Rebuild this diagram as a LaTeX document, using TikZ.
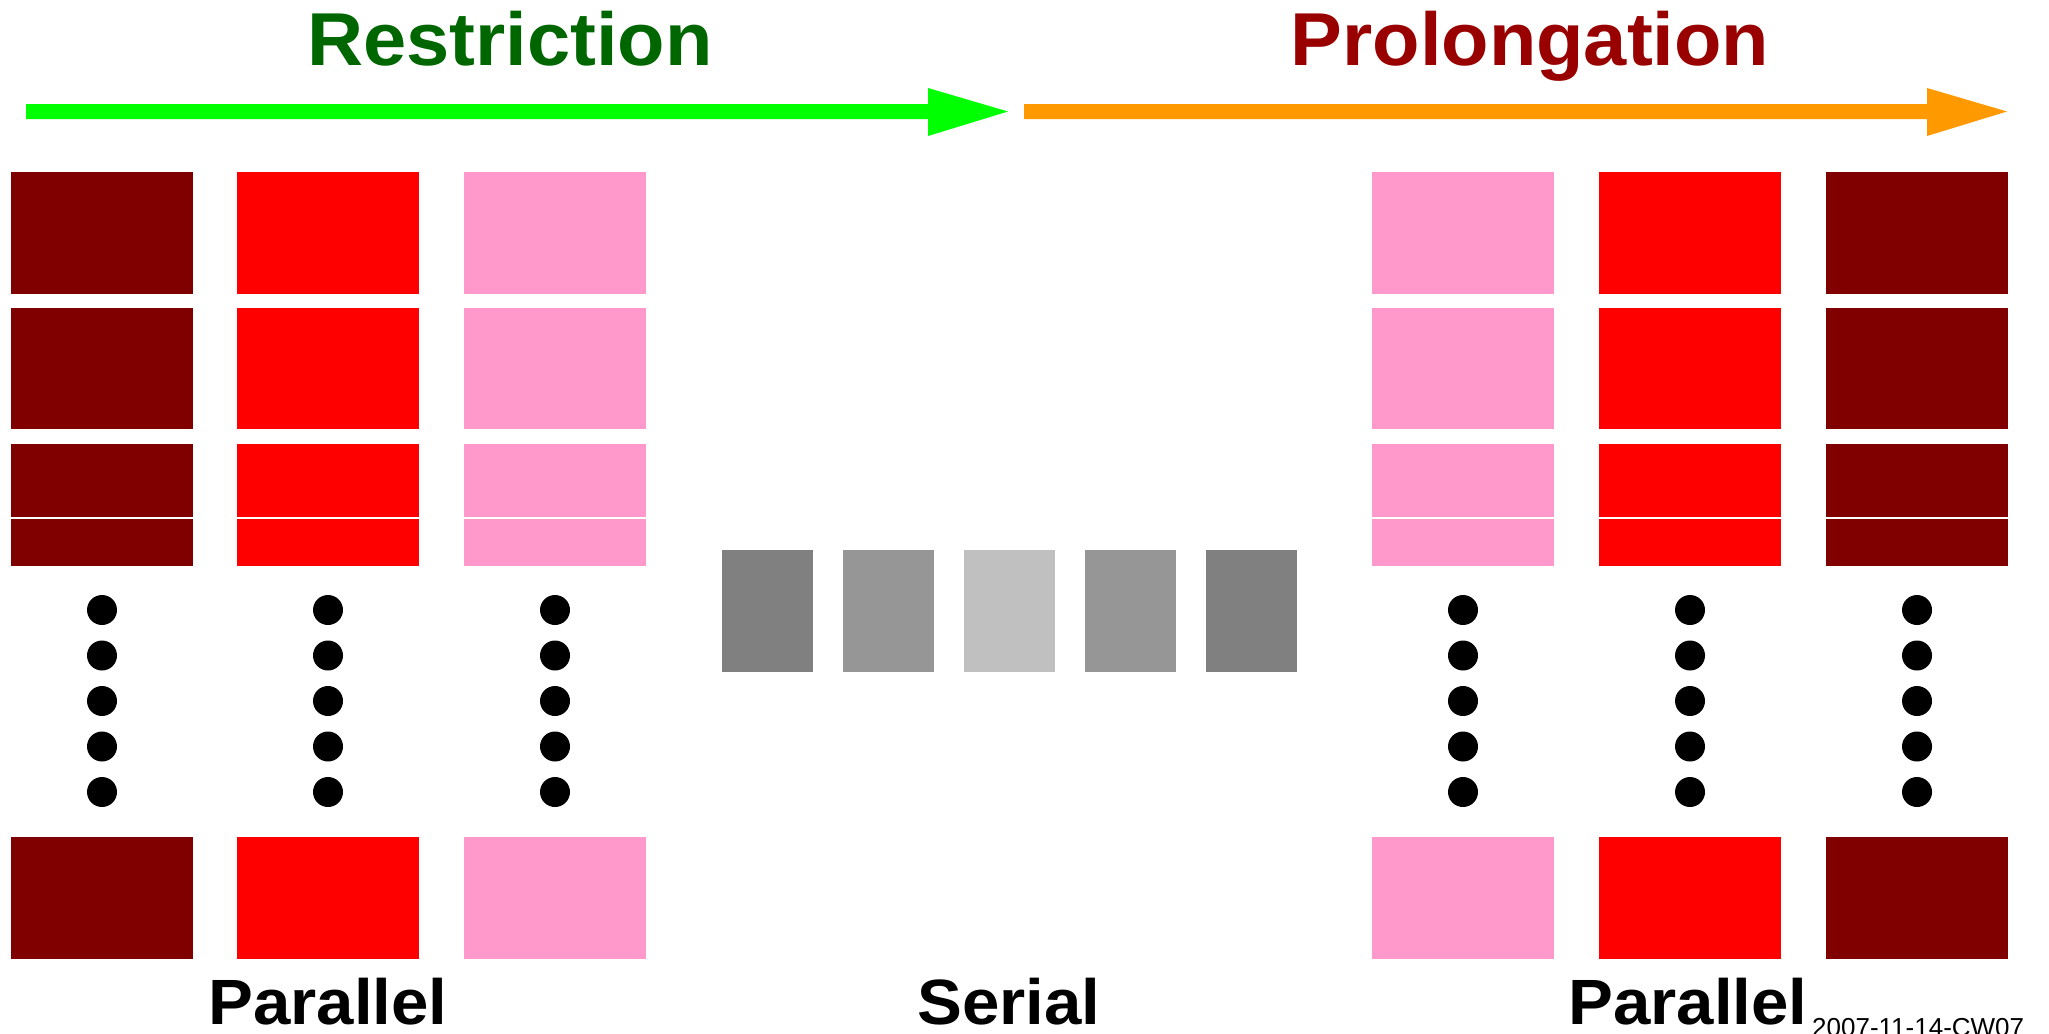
\documentclass[tikz,border=0pt]{standalone}
\usepackage{fontspec}
\setmainfont{Liberation Sans}
\definecolor{dkred}{HTML}{800000}
\definecolor{brred}{HTML}{FF0000}
\definecolor{pinkc}{HTML}{FF99CC}
\definecolor{arrgreen}{HTML}{00FF00}
\definecolor{arrorange}{HTML}{FF9900}
\definecolor{txtgreen}{HTML}{006600}
\definecolor{txtred}{HTML}{990000}
\definecolor{grayA}{HTML}{808080}
\definecolor{grayB}{HTML}{969696}
\definecolor{grayC}{HTML}{C0C0C0}
\newcommand{\titlewide}[1]{\scalebox{1.035}[1]{#1}}
\newcommand{\labelwide}[1]{\scalebox{1.05}[1]{#1}}
\tikzset{
  titletext/.style={anchor=base, inner sep=0pt, font=\fontsize{75}{80}\selectfont\bfseries},
  labeltext/.style={anchor=base, inner sep=0pt, text depth=0pt, font=\fontsize{64}{70}\selectfont\bfseries},
  smalltext/.style={anchor=base west, inner sep=0pt, font=\fontsize{26}{30}\selectfont},
  dotmark/.style={circle, fill=black, minimum size=30pt, inner sep=0pt},
  sepline/.style={draw=white, line width=1.3pt}
}
\begin{document}
\begin{tikzpicture}[x=1pt,y=-1pt]
\useasboundingbox (0,0) rectangle (2049,1033);
\fill[white] (0,0) rectangle (2049,1033);
% titles
\node[titletext, text=txtgreen] (restr) at (510,66) {\titlewide{Restriction}};
\node[titletext, text=txtred] (prol) at (1530,66) {\titlewide{Prolongation}};
% arrows
\fill[arrgreen] (26,104) -- (928,104) -- (928,88) -- (1008,111.5) -- (928,136) -- (928,119) -- (26,119) -- cycle;
\fill[arrorange] (1024,104) -- (1927,104) -- (1927,88) -- (2007,111.5) -- (1927,136) -- (1927,119) -- (1024,119) -- cycle;
% parallel columns
\foreach \xa/\xb/\col in {11/193/dkred, 237/419/brred, 464/646/pinkc, 1372/1554/pinkc, 1599/1781/brred, 1826/2008/dkred}{
  \foreach \ya/\yb in {172/294, 308/429, 444/566, 837/959}{
    \fill[\col] (\xa,\ya) rectangle (\xb,\yb);
  }
  \draw[sepline] (\xa,518) -- (\xb,518);
  \foreach \yd in {610,655.5,701,746.5,792}{
    \node[dotmark] at ({(\xa+\xb)/2},\yd) {};
  }
}
% serial boxes
\foreach \xa/\xb/\col in {722/813/grayA, 843/934/grayB, 964/1055/grayC, 1085/1176/grayB, 1206/1297/grayA}{
  \fill[\col] (\xa,550) rectangle (\xb,672);
}
% labels
\node[labeltext] (parL) at (328,1024) {\labelwide{Parallel}};
\node[labeltext] (ser) at (1009,1024) {\labelwide{Serial}};
\node[labeltext] (parR) at (1688,1024) {\labelwide{Parallel}};
\node[smalltext] (stamp) at (1812,1036) {2007-11-14-CW07};
\end{tikzpicture}
\end{document}
